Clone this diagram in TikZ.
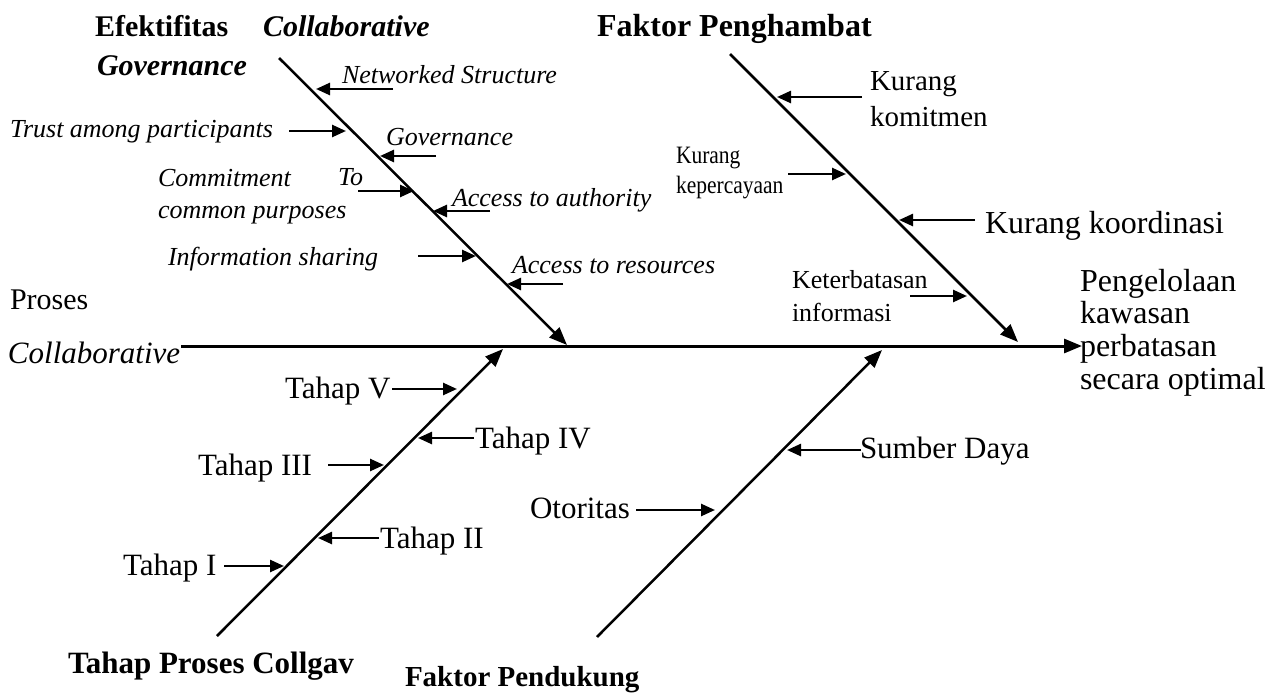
\documentclass[tikz,border=0pt]{standalone}
\usepackage{fontspec}
\setmainfont{Liberation Serif}
\usetikzlibrary{arrows.meta}
\newcommand\fsz[1]{\fontsize{#1}{#1}\selectfont}
\begin{document}
\begin{tikzpicture}[x=1pt,y=-1pt,
  lbl/.style={anchor=base west, inner sep=0pt, outer sep=0pt},
  bt/.style={font=\fsz{#1}\bfseries},
  bit/.style={font=\fsz{#1}\bfseries\itshape},
  it/.style={font=\fsz{#1}\itshape},
  rm/.style={font=\fsz{#1}},
  spine/.style={line width=3pt, -{Triangle[length=18pt,width=14pt]}},
  bone/.style={line width=2.5pt, -{Triangle[length=18pt,width=14pt]}},
  sub/.style={line width=2.5pt, -{Triangle[length=14pt,width=12pt]}}
]
\useasboundingbox (0,0) rectangle (1271,693);

% ---- category titles ----
\node[lbl,bt=30] (efek) at (95,37) {Efektifitas};
\node[lbl,bit=30] (collab) at (263,37) {Collaborative};
\node[lbl,bit=30] (gov) at (97,75) {Governance};
\node[lbl,bt=32] (fph) at (597,37) {Faktor Penghambat};
\node[lbl,bt=31] (tpc) at (68,673) {Tahap Proses Collgav};
\node[lbl,bt=29] (fpd) at (405,686) {Faktor Pendukung};

% ---- left head label ----
\node[lbl,rm=30] (proses) at (10,309) {Proses};
\node[lbl,it=31] (collabp) at (8,363) {Collaborative};

% ---- effect ----
\node[lbl,rm=32] (eff1) at (1080,291) {Pengelolaan};
\node[lbl,rm=32] (eff2) at (1080,323) {kawasan};
\node[lbl,rm=32] (eff3) at (1080,356) {perbatasan};
\node[lbl,rm=32] (eff4) at (1080,389) {secara optimal};

% ---- spine ----
\coordinate (sp0) at (181,346);
\coordinate (sp1) at (1082,346);
\draw[spine] (sp0) -- (sp1);

% ---- bones ----
\coordinate (tl0) at (279,58);   \coordinate (tl1) at (567,345);
\coordinate (tr0) at (730,54);   \coordinate (tr1) at (1018,342);
\coordinate (bl0) at (217,636);  \coordinate (bl1) at (503,349);
\coordinate (br0) at (597,637);  \coordinate (br1) at (882,350);
\draw[bone] (tl0) -- (tl1);
\draw[bone] (tr0) -- (tr1);
\draw[bone] (bl0) -- (bl1);
\draw[bone] (br0) -- (br1);

% ---- top-left causes ----
\node[lbl,it=26] (netw) at (342,83) {Networked Structure};
\node[lbl,it=26] (trust) at (10,137) {Trust among participants};
\node[lbl,it=26] (govs) at (386,145) {Governance};
\node[lbl,it=26] (commit) at (158,186) {Commitment};
\node[lbl,it=26] (to) at (338,185) {To};
\node[lbl,it=26] (common) at (158,218) {common purposes};
\node[lbl,it=26] (auth) at (452,206) {Access to authority};
\node[lbl,it=26] (info) at (168,265) {Information sharing};
\node[lbl,it=26] (res) at (512,273) {Access to resources};

\coordinate (a1s) at (393,89);  \coordinate (a1e) at (316,89);
\coordinate (a2s) at (289,131); \coordinate (a2e) at (346,131);
\coordinate (a3s) at (436,156); \coordinate (a3e) at (380,156);
\coordinate (a4s) at (358,191); \coordinate (a4e) at (414,191);
\coordinate (a5s) at (490,211); \coordinate (a5e) at (433,211);
\coordinate (a6s) at (418,256); \coordinate (a6e) at (476,256);
\coordinate (a7s) at (563,284); \coordinate (a7e) at (507,284);
\draw[sub] (a1s) -- (a1e);
\draw[sub] (a2s) -- (a2e);
\draw[sub] (a3s) -- (a3e);
\draw[sub] (a4s) -- (a4e);
\draw[sub] (a5s) -- (a5e);
\draw[sub] (a6s) -- (a6e);
\draw[sub] (a7s) -- (a7e);

% ---- top-right causes ----
\node[lbl,rm=29] (km1) at (870,90) {Kurang};
\node[lbl,rm=29] (km2) at (870,126) {komitmen};
\node[lbl,rm=25] (kp1) at (676,163) {\scalebox{0.86}[1]{Kurang}};
\node[lbl,rm=25] (kp2) at (676,193) {\scalebox{0.86}[1]{kepercayaan}};
\node[lbl,rm=32] (kk) at (985,233) {Kurang koordinasi};
\node[lbl,rm=26] (ki1) at (792,288) {Keterbatasan};
\node[lbl,rm=26] (ki2) at (792,321) {informasi};

\coordinate (b1s) at (862,97);  \coordinate (b1e) at (777,97);
\coordinate (b2s) at (788,174); \coordinate (b2e) at (846,174);
\coordinate (b3s) at (975,220); \coordinate (b3e) at (899,220);
\coordinate (b4s) at (910,296); \coordinate (b4e) at (967,296);
\draw[sub] (b1s) -- (b1e);
\draw[sub] (b2s) -- (b2e);
\draw[sub] (b3s) -- (b3e);
\draw[sub] (b4s) -- (b4e);

% ---- bottom-left causes ----
\node[lbl,rm=31] (t5) at (285,398) {Tahap V};
\node[lbl,rm=31] (t4) at (475,448) {Tahap IV};
\node[lbl,rm=31] (t3) at (198,475) {Tahap III};
\node[lbl,rm=31] (t2) at (380,548) {Tahap II};
\node[lbl,rm=31] (t1) at (123,575) {Tahap I};

\coordinate (c5s) at (392,389); \coordinate (c5e) at (457,389);
\coordinate (c4s) at (474,438); \coordinate (c4e) at (418,438);
\coordinate (c3s) at (328,465); \coordinate (c3e) at (384,465);
\coordinate (c2s) at (379,538); \coordinate (c2e) at (318,538);
\coordinate (c1s) at (224,566); \coordinate (c1e) at (284,566);
\draw[sub] (c5s) -- (c5e);
\draw[sub] (c4s) -- (c4e);
\draw[sub] (c3s) -- (c3e);
\draw[sub] (c2s) -- (c2e);
\draw[sub] (c1s) -- (c1e);

% ---- bottom-right causes ----
\node[lbl,rm=31] (oto) at (530,518) {Otoritas};
\node[lbl,rm=31] (sd) at (860,458) {Sumber Daya};
\coordinate (d1s) at (636,510); \coordinate (d1e) at (715,510);
\coordinate (d2s) at (861,450); \coordinate (d2e) at (787,450);
\draw[sub] (d1s) -- (d1e);
\draw[sub] (d2s) -- (d2e);
\end{tikzpicture}
\end{document}
